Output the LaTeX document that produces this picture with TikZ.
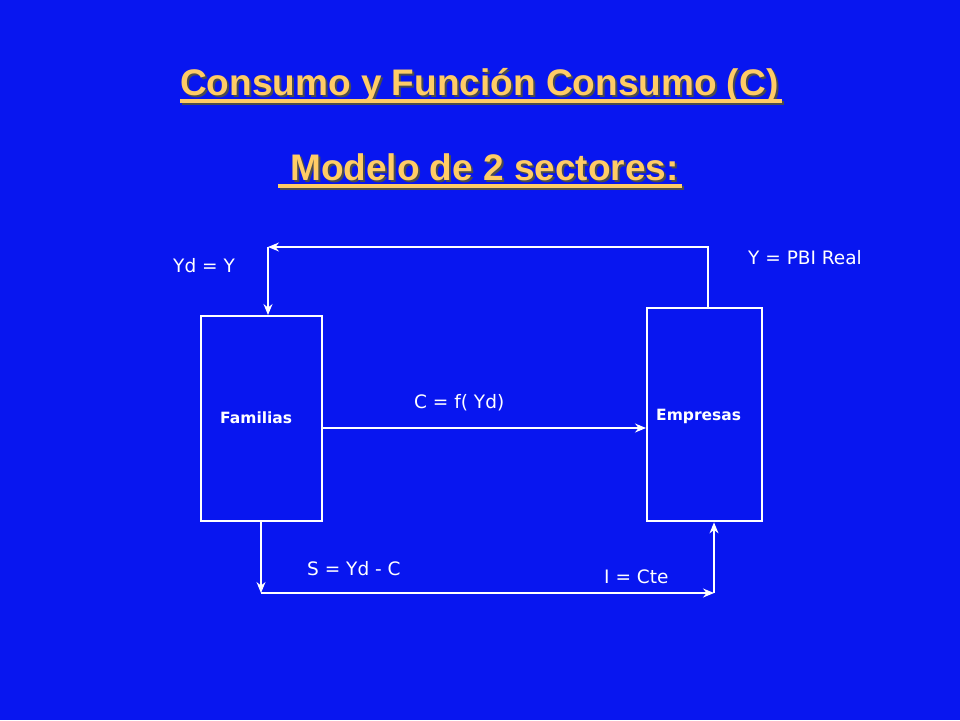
\documentclass[tikz,border=0pt]{standalone}
\usepackage{fontspec}
\setmainfont{DejaVu Sans}
\newfontfamily\titlefont{Liberation Sans}
\usetikzlibrary{arrows.meta}
\definecolor{slideblue}{RGB}{8,22,240}
\definecolor{titlegold}{RGB}{255,204,102}

\tikzset{
  box/.style={draw=white, line width=2.4pt, anchor=north west},
  flow/.style={draw=white, line width=1.2pt, -{Stealth[length=11pt,width=9pt]}},
  lbl/.style={text=white, font=\fontsize{18.5}{21}\selectfont, anchor=base west, inner sep=0pt},
  boxlbl/.style={text=white, font=\bfseries\fontsize{15.5}{18}\selectfont, anchor=base west, inner sep=0pt},
  ttl/.style={text=titlegold, font=\titlefont\bfseries\fontsize{37}{42}\selectfont, anchor=base west, inner sep=0pt},
  shd/.style={text=black!70, font=\titlefont\bfseries\fontsize{37}{42}\selectfont, anchor=base west, inner sep=0pt}
}

\begin{document}
\begin{tikzpicture}[x=1pt,y=-1pt]
\fill[slideblue] (0,0) rectangle (960,720);
\useasboundingbox (0,0) rectangle (960,720);

% titles
\node[shd] at (182,97) {Consumo y Función Consumo (C)};
\node[ttl] (title) at (180,95) {Consumo y Función Consumo (C)};
\fill[black!70] (182,101) rectangle (784,105);
\fill[titlegold] (180,99) rectangle (782,103);
\node[shd] at (292,182) {Modelo de 2 sectores:};
\node[ttl] (subtitle) at (290,180) {Modelo de 2 sectores:};
\fill[black!70] (280,186) rectangle (684,190);
\fill[titlegold] (278,184) rectangle (682,188);

% boxes
\node[box, minimum width=121pt, minimum height=205pt] (fam) at (200,315) {};
\node[box, minimum width=115pt, minimum height=213pt] (emp) at (646,307) {};
\node[boxlbl] at (220,423) {Familias};
\node[boxlbl] at (656,420) {Empresas};

% corners
\coordinate (tr) at (708,247);
\coordinate (tl) at (268,247);
\coordinate (bl) at (261,593);
\coordinate (br) at (714,593);

% connectors
\draw[flow] (emp.north -| tr) -- (tr) -- (tl);
\draw[flow] (tl) -- (fam.north -| tl);
\draw[flow] (fam.east |- 0,428) -- (emp.west |- 0,428);
\draw[flow] (fam.south -| bl) -- (bl);
\draw[flow] (bl) -- (br);
\draw[flow] (br) -- (emp.south -| br);

% labels
\node[lbl] (yd) at (173,272) {Yd = Y};
\node[lbl] (pbi) at (748,264) {Y = PBI Real};
\node[lbl] (cons) at (414,408) {C = f( Yd)};
\node[lbl] (sav) at (307,575) {S = Yd - C};
\node[lbl] (inv) at (604,583) {I = Cte};
\end{tikzpicture}
\end{document}
